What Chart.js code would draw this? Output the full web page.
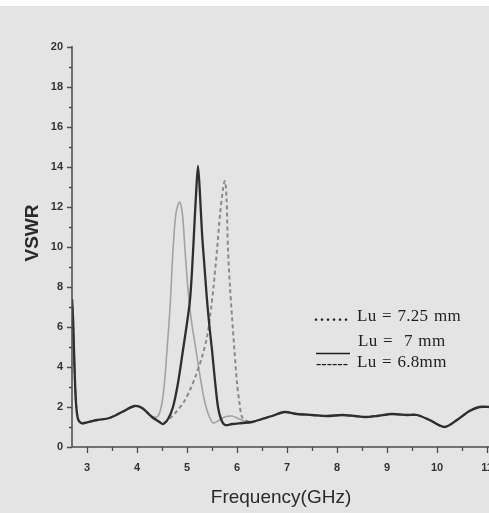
<!DOCTYPE html>
<html><head><meta charset="utf-8">
<script src="https://cdn.jsdelivr.net/npm/chart.js@4"></script>
<style>
html,body{margin:0;padding:0;overflow:hidden;background:#fff;width:489px;height:513px}
canvas{display:block}
</style></head>
<body><canvas id="c" width="500" height="513" style="width:500px;height:513px"></canvas>
<script>
// ---- data ----
const baseLeftFreq = [2.70, 2.72, 2.75, 2.78, 2.82, 2.88, 2.95, 3.2, 3.45, 3.7, 3.95, 4.1, 4.3];
const baseLeftVswr = [7.4, 6.5, 4.0, 2.2, 1.4, 1.2, 1.2, 1.35, 1.45, 1.75, 2.05, 1.95, 1.5];

// Lu = 7.25 mm
const lu725Freq = [4.42, 4.5, 4.56, 4.6, 4.64, 4.67, 4.72, 4.78, 4.85, 4.91, 4.96, 5.0, 5.04, 5.1, 5.18, 5.27, 5.36, 5.44, 5.52, 5.62, 5.75, 5.9, 6.0, 6.15];
const lu725Vswr = [1.55, 2.2, 3.5, 4.85, 6.2, 7.35, 9.85, 11.7, 12.25, 11.6, 9.85, 8.5, 7.35, 6.1, 4.85, 3.4, 2.2, 1.55, 1.2, 1.3, 1.5, 1.55, 1.45, 1.3];

// Lu = 7 mm
const lu7Freq = [4.42, 4.52, 4.62, 4.72, 4.82, 4.92, 5.0, 5.06, 5.1, 5.14, 5.18, 5.22, 5.26, 5.3, 5.35, 5.4, 5.45, 5.5, 5.56, 5.62, 5.68, 5.76, 5.9, 6.1];
const lu7Vswr = [1.3, 1.15, 1.4, 2.0, 3.2, 4.85, 6.2, 7.35, 8.8, 10.7, 12.6, 14.05, 12.6, 10.7, 9.0, 7.35, 6.0, 4.85, 3.3, 2.0, 1.4, 1.1, 1.15, 1.2];

// Lu = 6.8 mm
const lu68Freq = [4.42, 4.52, 4.62, 4.8, 4.95, 5.06, 5.18, 5.3, 5.4, 5.46, 5.53, 5.6, 5.66, 5.72, 5.76, 5.79, 5.82, 5.86, 5.9, 5.95, 6.0, 6.05, 6.1, 6.2];
const lu68Vswr = [1.3, 1.2, 1.35, 1.8, 2.3, 2.85, 3.6, 4.5, 5.5, 6.5, 8.0, 9.85, 11.6, 12.9, 13.3, 12.5, 9.85, 8.0, 6.5, 4.8, 3.2, 2.2, 1.5, 1.3];

const baseRightFreq = [6.3, 6.5, 6.7, 6.95, 7.2, 7.5, 7.8, 8.1, 8.36, 8.56, 8.8, 9.1, 9.4, 9.6, 9.85, 10.15, 10.4, 10.65, 10.85, 11.05, 11.2];
const baseRightVswr = [1.25, 1.4, 1.55, 1.75, 1.65, 1.6, 1.55, 1.6, 1.55, 1.5, 1.55, 1.65, 1.6, 1.6, 1.35, 1.0, 1.35, 1.8, 2.0, 2.0, 1.95];

const xTickValues = [3, 3.5, 4, 4.5, 5, 5.5, 6, 6.5, 7, 7.5, 8, 8.5, 9, 9.5, 10, 10.5, 11];
const yTickValues = [0,1,2,3,4,5,6,7,8,9,10,11,12,13,14,15,16,17,18,19,20];

const legendLabels = ['Lu = 7.25 mm', 'Lu =  7 mm', 'Lu = 6.8mm'];
const xTitle = 'Frequency(GHz)';
const yTitle = 'VSWR';

function pts(fa, va){ return fa.map((f,i)=>({x:f, y:va[i]})); }
function series(mf, mv){
  return pts(baseLeftFreq.concat(mf, baseRightFreq), baseLeftVswr.concat(mv, baseRightVswr));
}

const tickFont = 'bold 11px "Liberation Sans", Arial, sans-serif';

const decor = {
  id: 'decor',
  beforeDraw(chart){
    const ctx = chart.ctx;
    ctx.save();
    ctx.fillStyle = '#ffffff';
    ctx.fillRect(0, 0, chart.width, chart.height);
    ctx.fillStyle = '#e4e4e4';
    ctx.fillRect(0, 6, chart.width, chart.height - 6);
    ctx.restore();
  },
  afterDraw(chart){
    const ctx = chart.ctx;
    const xs = chart.scales.x, ys = chart.scales.y;
    const a = chart.chartArea;
    ctx.save();
    ctx.strokeStyle = '#4a4a4a';
    ctx.lineWidth = 1.5;
    ctx.beginPath();
    ctx.moveTo(a.left, a.top - 1);
    ctx.lineTo(a.left, a.bottom);
    ctx.lineTo(a.right, a.bottom);
    ctx.stroke();
    ctx.lineWidth = 1.3;
    ctx.beginPath();
    xTickValues.forEach(v => {
      const px = Math.round(xs.getPixelForValue(v)) + 0.5;
      const len = Number.isInteger(v) ? 6 : 4;
      ctx.moveTo(px, a.bottom); ctx.lineTo(px, a.bottom + len);
    });
    yTickValues.forEach(v => {
      const py = Math.round(ys.getPixelForValue(v)) + 0.5;
      const len = v % 2 === 0 ? 5 : 3;
      ctx.moveTo(a.left, py); ctx.lineTo(a.left - len, py);
    });
    ctx.stroke();

    // tick labels
    ctx.fillStyle = '#333333';
    ctx.font = tickFont;
    ctx.textAlign = 'center';
    ctx.textBaseline = 'middle';
    xTickValues.filter(v => Number.isInteger(v)).forEach(v => {
      ctx.fillText(String(v), xs.getPixelForValue(v), a.bottom + 21);
    });
    ctx.textAlign = 'right';
    yTickValues.filter(v => v % 2 === 0).forEach(v => {
      ctx.fillText(String(v), a.left - 9, ys.getPixelForValue(v));
    });

    // axis titles
    ctx.fillStyle = '#2a2a2a';
    ctx.font = '19px "Liberation Sans", Arial, sans-serif';
    ctx.textAlign = 'center';
    ctx.textBaseline = 'alphabetic';
    ctx.fillText(xTitle, 281, 503);
    ctx.save();
    ctx.translate(38, 233);
    ctx.rotate(-Math.PI / 2);
    ctx.font = 'bold 19px "Liberation Sans", Arial, sans-serif';
    ctx.fillText(yTitle, 0, 0);
    ctx.restore();

    // legend
    ctx.fillStyle = '#1e1e1e';
    ctx.textAlign = 'left';
    ctx.letterSpacing = '2px';
    ctx.font = 'bold 16px "Liberation Serif", serif';
    ctx.fillText('......', 314, 321);
    ctx.font = '16px "Liberation Serif", serif';
    ctx.letterSpacing = '0px';
    ctx.fillText('------', 316, 369);
    ctx.font = '17px "Liberation Serif", "Times New Roman", serif';
    ctx.letterSpacing = '0.3px';
    ctx.wordSpacing = '1px';
    ctx.fillText(legendLabels[0], 357, 321);
    ctx.fillText(legendLabels[1], 358, 346);
    ctx.fillText(legendLabels[2], 357, 367);
    ctx.strokeStyle = '#1e1e1e';
    ctx.lineWidth = 1.5;
    ctx.beginPath();
    ctx.moveTo(316, 353.5); ctx.lineTo(350, 353.5);
    ctx.stroke();
    ctx.restore();
  }
};

new Chart(document.getElementById('c'), {
  type: 'line',
  data: {
    datasets: [
      { label: legendLabels[1], data: series(lu7Freq, lu7Vswr), borderColor: '#2e2e2e', borderWidth: 2.3, order: 0 },
      { label: legendLabels[2], data: series(lu68Freq, lu68Vswr), borderColor: '#8a8a8a', borderWidth: 2, borderDash: [4, 3], order: 1 },
      { label: legendLabels[0], data: series(lu725Freq, lu725Vswr), borderColor: '#a2a2a2', borderWidth: 1.6, order: 2 }
    ]
  },
  options: {
    responsive: false,
    animation: false,
    devicePixelRatio: 1,
    layout: { padding: { top: 47, left: 0, right: 3, bottom: 0 } },
    elements: { point: { radius: 0 }, line: { tension: 0.3, fill: false } },
    plugins: { legend: { display: false }, tooltip: { enabled: false } },
    scales: {
      x: {
        type: 'linear', min: 2.7, max: 11.2,
        grid: { display: false }, border: { display: false },
        afterBuildTicks: s => { s.ticks = xTickValues.map(v => ({ value: v })); },
        afterFit: s => { s.height = 66; },
        ticks: { display: false }
      },
      y: {
        type: 'linear', min: 0, max: 20,
        grid: { display: false }, border: { display: false },
        afterBuildTicks: s => { s.ticks = yTickValues.map(v => ({ value: v })); },
        afterFit: s => { s.width = 72; },
        ticks: { display: false }
      }
    }
  },
  plugins: [decor]
});
</script></body></html>
